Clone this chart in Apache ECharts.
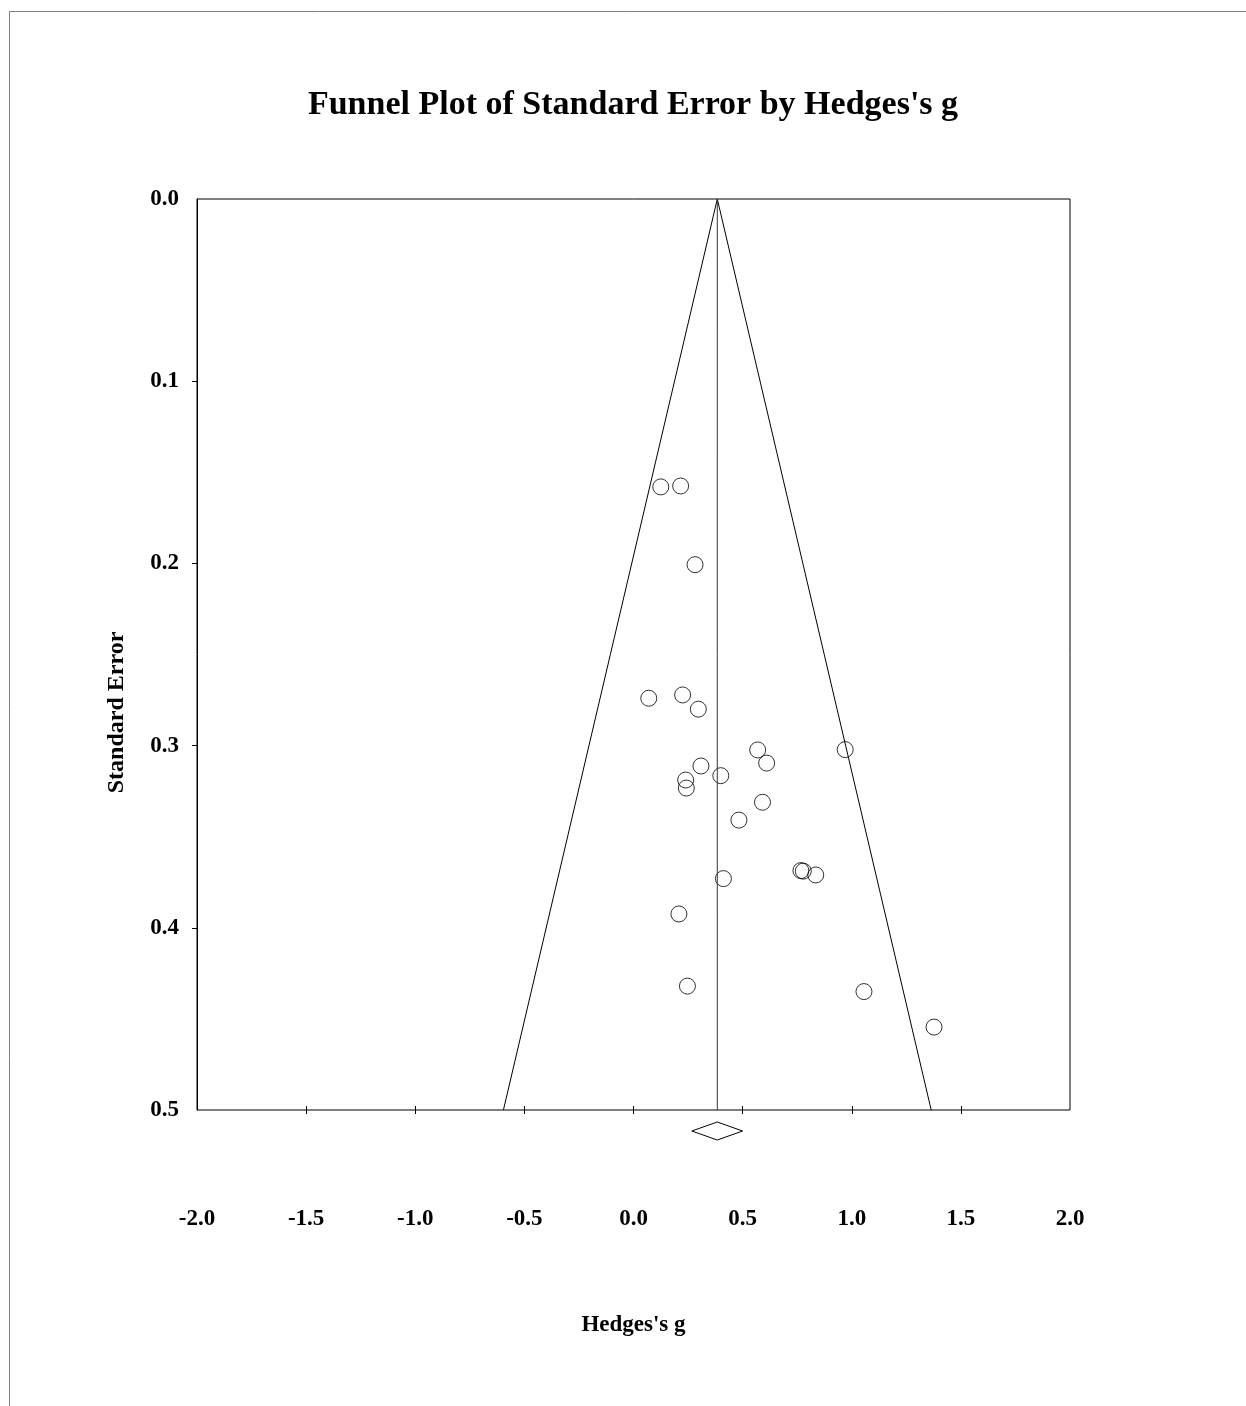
<!DOCTYPE html>
<html>
<head>
<meta charset="utf-8">
<script src="https://cdn.jsdelivr.net/npm/echarts@6/dist/echarts.min.js"></script>
<style>
html,body{margin:0;padding:0;background:#fff;}
#chart{width:1246px;height:1406px;}
</style>
</head>
<body>
<div id="chart"></div>
<script>
// Study effect sizes (Hedges's g) and standard errors
const hedgesG = [0.125, 0.216, 0.282, 0.070, 0.225, 0.297, 0.569, 0.970, 0.610, 0.309, 0.400, 0.239, 0.242, 0.591, 0.483, 0.767, 0.778, 0.835, 0.412, 0.208, 0.247, 1.056, 1.377];
const stdErr  = [0.158, 0.1575, 0.2007, 0.274, 0.2722, 0.280, 0.3024, 0.3022, 0.3096, 0.3112, 0.3165, 0.3189, 0.3233, 0.3311, 0.3409, 0.3686, 0.3689, 0.3710, 0.3730, 0.3924, 0.4320, 0.4350, 0.4545];

// Summary effect (diamond) and funnel limits at SE = 0.5
const summaryEst = 0.384;
const summaryLo = 0.267;
const summaryHi = 0.500;
const funnelSE = [0.5, 0.0, 0.5];
const funnelG  = [-0.596, 0.384, 1.364];

const xTickLabels = [-2.0, -1.5, -1.0, -0.5, 0.0, 0.5, 1.0, 1.5, 2.0];
const xTicks = [-1.5, -1.0, -0.5, 0.0, 0.5, 1.0, 1.5];
const yTickLabels = [0.0, 0.1, 0.2, 0.3, 0.4, 0.5];
const yTicks = [0.1, 0.2, 0.3, 0.4];

const FONT = '"Liberation Serif", "Times New Roman", serif';

const chart = echarts.init(document.getElementById('chart'), null, {renderer: 'canvas'});

const scatterData = hedgesG.map((g, i) => [g, stdErr[i]]);
const funnelData = funnelG.map((g, i) => [g, funnelSE[i]]);

const option = {
  backgroundColor: '#fff',
  animation: false,
  title: {
    text: "Funnel Plot of Standard Error by Hedges's g",
    left: 628,
    top: 83,
    textAlign: 'center',
    textStyle: {fontFamily: FONT, fontSize: 34, fontWeight: 'bold', color: '#000'}
  },
  graphic: [
    {type: 'line', shape: {x1: 9.5, y1: 11.5, x2: 1246, y2: 11.5}, style: {stroke: '#808080', lineWidth: 1}},
    {type: 'line', shape: {x1: 9.5, y1: 11.5, x2: 9.5, y2: 1406}, style: {stroke: '#808080', lineWidth: 1}}
  ],
  grid: {left: 197, top: 199, right: 176, bottom: 296, show: true, borderColor: '#000', borderWidth: 1, backgroundColor: 'transparent'},
  xAxis: {
    type: 'value', min: -2, max: 2, interval: 0.5, offset: -4,
    name: "Hedges's g", nameLocation: 'middle', nameGap: 208,
    nameTextStyle: {fontFamily: FONT, fontSize: 23, fontWeight: 'bold', color: '#000'},
    axisLine: {show: false, onZero: false},
    axisTick: {show: true, inside: false, length: 8, customValues: xTicks, lineStyle: {color: '#000'}},
    axisLabel: {show: true, margin: 102, customValues: xTickLabels, formatter: v => v.toFixed(1),
      fontFamily: FONT, fontSize: 23, fontWeight: 'bold', color: '#000'},
    splitLine: {show: false}
  },
  yAxis: {
    type: 'value', min: 0, max: 0.5, interval: 0.1, inverse: true,
    name: 'Standard Error', nameLocation: 'middle', nameGap: 68, nameRotate: 90,
    nameTextStyle: {fontFamily: FONT, fontSize: 24, fontWeight: 'bold', color: '#000', padding: [0, 116, 0, 0]},
    axisLine: {show: true, onZero: false, lineStyle: {color: '#000', width: 1}},
    axisTick: {show: true, inside: false, length: 5, customValues: yTicks, lineStyle: {color: '#000'}},
    axisLabel: {show: true, margin: 18, customValues: yTickLabels, formatter: v => v.toFixed(1),
      fontFamily: FONT, fontSize: 23, fontWeight: 'bold', color: '#000'},
    splitLine: {show: false}
  },
  series: [
    {
      type: 'line', data: funnelData, symbol: 'none', silent: true,
      lineStyle: {color: '#000', width: 1}
    },
    {
      type: 'line', data: [[summaryEst, 0], [summaryEst, 0.5]], symbol: 'none', silent: true,
      lineStyle: {color: '#333', width: 1}
    },
    {
      type: 'scatter', data: scatterData, symbol: 'circle', symbolSize: 16,
      itemStyle: {color: 'rgba(0,0,0,0)', borderColor: '#000', borderWidth: 1}
    },
    {
      type: 'custom', clip: false, silent: true,
      data: [[summaryEst, 0.5, summaryLo, summaryHi]],
      encode: {x: 0, y: 1},
      renderItem: function (params, api) {
        const c = api.coord([api.value(0), api.value(1)]);
        const l = api.coord([api.value(2), api.value(1)]);
        const r = api.coord([api.value(3), api.value(1)]);
        const yMid = c[1] + 21;
        return {
          type: 'polygon',
          shape: {points: [[l[0], yMid], [c[0], yMid - 9], [r[0], yMid], [c[0], yMid + 9]]},
          style: {fill: '#fff', stroke: '#000', lineWidth: 1}
        };
      }
    }
  ]
};
chart.setOption(option);
</script>
</body>
</html>
